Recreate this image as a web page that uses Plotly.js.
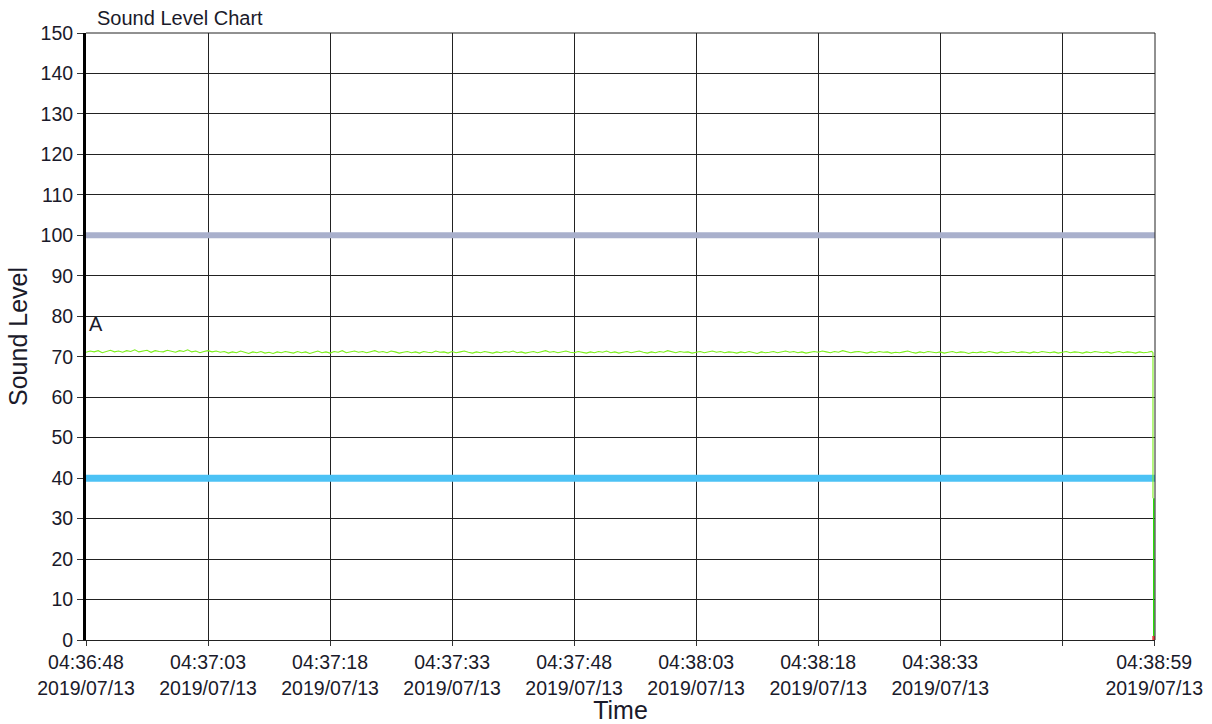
<!DOCTYPE html>
<html>
<head>
<meta charset="utf-8">
<script src="https://cdn.plot.ly/plotly-3.0.1.min.js"></script>
<style>html,body{margin:0;padding:0;background:#fff;}#chart{width:1212px;height:724px;}</style>
</head>
<body>
<div id="chart"></div>
<script>
// ---- data ----
var startTime = '2019-07-13 04:36:48';
var endTime = '2019-07-13 04:38:59.4';
var sampleStepMs = 500;
var soundLevels = [
71.1,71.4,71.2,71.5,71.0,71.3,71.6,71.2,71.4,71.1,
71.5,71.3,71.7,71.2,71.4,71.6,71.1,71.5,71.3,71.2,
71.6,71.4,71.1,71.5,71.3,71.7,71.2,71.4,71.0,71.3,
71.5,71.2,71.4,71.1,71.3,70.9,71.2,71.0,71.4,71.1,
70.8,71.2,71.0,71.3,70.9,71.1,70.8,71.2,71.0,71.3,
71.1,70.9,71.3,71.0,71.2,70.8,71.1,71.4,71.0,71.2,
70.9,71.3,71.1,71.5,71.0,71.2,71.4,71.1,71.3,71.0,
71.2,71.5,71.1,71.3,71.0,71.4,71.2,70.9,71.1,71.3,
71.0,71.2,70.9,71.3,71.1,71.0,71.4,71.1,71.2,70.9,
71.3,71.0,71.2,71.4,71.1,70.9,71.2,71.0,71.3,71.1,
70.9,71.2,71.0,71.3,71.1,71.4,71.0,71.2,70.9,71.1,
71.3,71.0,71.2,71.5,71.1,71.3,71.0,71.2,71.4,71.1,
71.0,71.3,71.1,70.9,71.2,71.0,71.3,71.1,71.4,71.0,
71.2,70.9,71.1,71.3,71.0,71.2,71.4,71.1,70.9,71.2,
71.0,71.3,71.1,71.5,71.2,71.0,71.3,71.1,71.2,70.9,
71.1,71.3,71.0,71.2,71.4,71.1,71.3,71.0,71.2,71.1,
70.9,71.2,71.0,71.3,71.1,70.8,71.2,71.0,71.1,71.3,
71.0,71.2,71.4,71.1,71.3,71.0,71.2,70.9,71.1,71.3,
71.1,71.4,71.2,71.0,71.3,71.1,71.5,71.2,71.0,71.2,
71.3,71.1,70.9,71.2,71.0,71.3,71.1,71.2,70.9,71.1,
71.0,71.2,71.4,71.1,70.9,71.2,71.0,71.3,71.1,71.0,
71.2,70.9,71.1,71.3,71.0,71.2,71.1,70.8,71.1,71.0,
71.2,71.0,71.3,71.1,70.9,71.2,71.0,71.1,71.3,71.0,
71.2,71.1,70.9,71.2,71.0,71.3,71.1,71.0,71.2,70.9,
71.1,71.3,71.0,71.2,71.1,70.9,71.2,71.0,71.3,71.1,
71.0,71.2,70.9,71.1,71.3,71.0,71.2,71.1,70.9,71.2,
71.0,71.1,71.3
];
var dropTimes = ['2019-07-13 04:38:59.15', '2019-07-13 04:38:59.15', '2019-07-13 04:38:59.25', '2019-07-13 04:38:59.25'];
var dropLevels = [71.0, 35, 35, 0];
var upperLimit = 100;
var lowerLimit = 40;
var tickTimes = ['2019-07-13 04:36:48','2019-07-13 04:37:03','2019-07-13 04:37:18','2019-07-13 04:37:33',
  '2019-07-13 04:37:48','2019-07-13 04:38:03','2019-07-13 04:38:18','2019-07-13 04:38:33',
  '2019-07-13 04:38:48','2019-07-13 04:38:59.3'];
var tickLabels = ['04:36:48<br>2019/07/13','04:37:03<br>2019/07/13','04:37:18<br>2019/07/13','04:37:33<br>2019/07/13',
  '04:37:48<br>2019/07/13','04:38:03<br>2019/07/13','04:38:18<br>2019/07/13','04:38:33<br>2019/07/13',
  '','04:38:59<br>2019/07/13'];
var yTicks = [0,10,20,30,40,50,60,70,80,90,100,110,120,130,140,150];

function fmt(d){
  function p(n){return (n<10?'0':'')+n;}
  var ms = d.getMilliseconds();
  return d.getFullYear()+'-'+p(d.getMonth()+1)+'-'+p(d.getDate())+' '+p(d.getHours())+':'+p(d.getMinutes())+':'+p(d.getSeconds())+(ms?'.'+String(ms).padStart(3,'0'):'');
}
var t0 = new Date(2019,6,13,4,36,48);
var times = soundLevels.map(function(v,i){ return fmt(new Date(t0.getTime()+i*sampleStepMs)); });

var traces = [
  {x:[startTime,endTime], y:[upperLimit,upperLimit], mode:'lines', line:{color:'#a9b0cc', width:6}, hoverinfo:'skip'},
  {x:[startTime,endTime], y:[lowerLimit,lowerLimit], mode:'lines', line:{color:'#4cc2f5', width:7}, hoverinfo:'skip'},
  {x:times.concat([dropTimes[0],dropTimes[1]]), y:soundLevels.concat([dropLevels[0],dropLevels[1]]), mode:'lines', line:{color:'#7cf01a', width:1.1}},
  {x:[dropTimes[2],dropTimes[3]], y:[dropLevels[2],dropLevels[3]], mode:'lines', line:{color:'#22e000', width:1.5}},
  {x:[dropTimes[3],dropTimes[3]], y:[0,1], mode:'lines', line:{color:'#e04040', width:3}}
];

var layout = {
  width:1212, height:724,
  margin:{l:86, r:57, t:33, b:84},
  paper_bgcolor:'#fff', plot_bgcolor:'#fff',
  showlegend:false,
  font:{family:'Arial, Liberation Sans, sans-serif', size:19.5, color:'#1a1a2a'},
  title:{text:'Sound Level Chart', x:0, xref:'paper', xanchor:'left', y:0.975, yanchor:'middle', pad:{l:11}, font:{size:20, color:'#1a1a2a'}},
  xaxis:{type:'date', range:[startTime,endTime], tickmode:'array', tickvals:tickTimes, ticktext:tickLabels,
    showgrid:true, gridcolor:'#222', gridwidth:1, ticks:'outside', ticklen:5, tickcolor:'#333',
    showline:true, linecolor:'#222', linewidth:1, mirror:false, zeroline:false,
    title:{text:'Time', font:{size:25}, standoff:2}, tickfont:{size:19.5}},
  yaxis:{range:[0,150], tickmode:'array', tickvals:yTicks, showgrid:true, gridcolor:'#222', gridwidth:1,
    ticks:'outside', ticklen:6, tickcolor:'#333', showline:true, linecolor:'#000', linewidth:3, zeroline:false,
    title:{text:'Sound Level', font:{size:25}, standoff:6}, tickfont:{size:19.5}},
  shapes:[{type:'line', xref:'paper', yref:'paper', x0:1, x1:1, y0:0, y1:1, line:{color:'#222', width:1}},
          {type:'line', xref:'paper', yref:'paper', x0:0, x1:1, y0:1, y1:1, line:{color:'#222', width:1}}],
  annotations:[{x:startTime, y:78, xref:'x', yref:'y', text:'A', showarrow:false, xanchor:'left', yanchor:'middle', xshift:1, font:{size:20, color:'#1a1a2a'}}]
};
Plotly.newPlot('chart', traces, layout, {displayModeBar:false, staticPlot:true});
</script>
</body>
</html>
